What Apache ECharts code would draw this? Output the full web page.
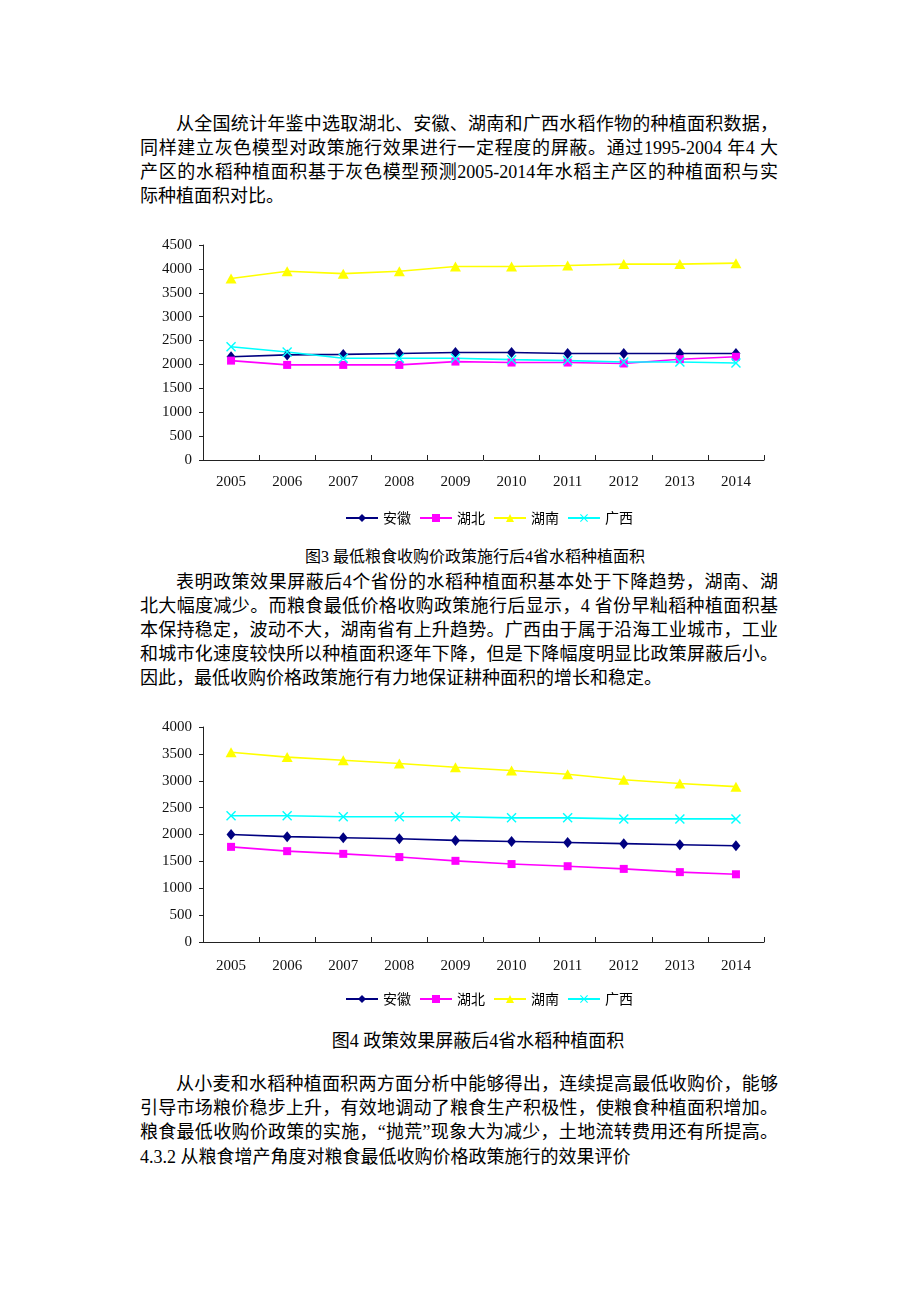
<!DOCTYPE html>
<html>
<head>
<meta charset="utf-8">
<script src="https://cdn.jsdelivr.net/npm/echarts@6/dist/echarts.min.js"></script>
<style>
  html, body { margin: 0; padding: 0; background: #fff; }
  body { width: 920px; height: 1302px; position: relative; overflow: hidden;
         font-family: 'Liberation Serif', 'Noto Sans CJK SC', serif; color: #000; }
  .ln { position: absolute; left: 140px; width: 638px; height: 24px; line-height: 24px;
        font-size: 18px; white-space: nowrap; text-align: justify; text-align-last: justify; }
  .ind { left: 176px; width: 602px; }
  .last { text-align: left; text-align-last: left; }
  .cap { position: absolute; left: 0; width: 920px; text-align: center; white-space: nowrap; }
  .chart { position: absolute; left: 0; width: 920px; }
</style>
</head>
<body>
<div class="ln ind" style="top:112px">从全国统计年鉴中选取湖北、安徽、湖南和广西水稻作物的种植面积数据，</div>
<div class="ln" style="top:136px">同样建立灰色模型对政策施行效果进行一定程度的屏蔽。通过1995-2004 年4 大</div>
<div class="ln" style="top:160px">产区的水稻种植面积基于灰色模型预测2005-2014年水稻主产区的种植面积与实</div>
<div class="ln last" style="top:184px">际种植面积对比。</div>

<div id="c1" class="chart" style="top:230px;height:310px"></div>
<div class="cap" style="top:546px;font-size:16px;line-height:22px;padding-left:30px;box-sizing:border-box">图3 最低粮食收购价政策施行后4省水稻种植面积</div>

<div class="ln ind" style="top:570px">表明政策效果屏蔽后4个省份的水稻种植面积基本处于下降趋势，湖南、湖</div>
<div class="ln" style="top:594px">北大幅度减少。而粮食最低价格收购政策施行后显示，4 省份早籼稻种植面积基</div>
<div class="ln" style="top:618px">本保持稳定，波动不大，湖南省有上升趋势。广西由于属于沿海工业城市，工业</div>
<div class="ln" style="top:642px">和城市化速度较快所以种植面积逐年下降，但是下降幅度明显比政策屏蔽后小。</div>
<div class="ln last" style="top:666px">因此，最低收购价格政策施行有力地保证耕种面积的增长和稳定。</div>

<div id="c2" class="chart" style="top:715px;height:300px"></div>
<div class="cap" style="top:1028px;font-size:18px;line-height:26px;padding-left:36px;box-sizing:border-box">图4 政策效果屏蔽后4省水稻种植面积</div>

<div class="ln ind" style="top:1072px">从小麦和水稻种植面积两方面分析中能够得出，连续提高最低收购价，能够</div>
<div class="ln" style="top:1096px">引导市场粮价稳步上升，有效地调动了粮食生产积极性，使粮食种植面积增加。</div>
<div class="ln" style="top:1120px">粮食最低收购价政策的实施，“抛荒”现象大为减少，土地流转费用还有所提高。</div>
<div class="ln last" style="top:1145px">4.3.2 从粮食增产角度对粮食最低收购价格政策施行的效果评价</div>

<script>
// ---- Data ----
var years = ['2005','2006','2007','2008','2009','2010','2011','2012','2013','2014'];
var seriesNames = ['安徽','湖北','湖南','广西'];

// Figure 3: actual area after policy
var fig3_anhui   = [2160, 2200, 2210, 2230, 2250, 2250, 2230, 2230, 2230, 2230];
var fig3_hubei   = [2080, 1990, 1990, 1990, 2060, 2040, 2040, 2020, 2110, 2160];
var fig3_hunan   = [3800, 3950, 3900, 3950, 4050, 4050, 4070, 4100, 4100, 4120];
var fig3_guangxi = [2370, 2260, 2130, 2130, 2130, 2100, 2080, 2050, 2050, 2030];

// Figure 4: after shielding policy effect (grey model)
var fig4_anhui   = [2000, 1960, 1940, 1920, 1890, 1870, 1850, 1830, 1810, 1790];
var fig4_hubei   = [1770, 1690, 1640, 1580, 1510, 1450, 1410, 1360, 1300, 1260];
var fig4_hunan   = [3530, 3440, 3380, 3320, 3250, 3190, 3120, 3020, 2950, 2890];
var fig4_guangxi = [2350, 2350, 2330, 2330, 2330, 2310, 2310, 2290, 2290, 2290];

var fig3_yMax = 4500;
var fig4_yMax = 4000;
var yInterval = 500;

// ---- Styles ----
var colors = ['#000080', '#FF00FF', '#FFFF00', '#00FFFF'];
var crossPath = 'path://M0,1L1,0L5,4L9,0L10,1L6,5L10,9L9,10L5,6L1,10L0,9L4,5Z';
var symbols = [
  {symbol: 'diamond', size: [9, 11]},
  {symbol: 'rect', size: [8, 8]},
  {symbol: 'triangle', size: [11, 10]},
  {symbol: crossPath, size: [10, 10]}
];
var axisFont = 'Liberation Serif';

function buildOption(dataList, yMax, gridTop, legendTop, labelMargin) {
  return {
    animation: false,
    backgroundColor: '#fff',
    color: colors,
    grid: { left: 203, top: gridTop, width: 561, height: 215, containLabel: false },
    legend: {
      data: seriesNames,
      left: 340, top: legendTop,
      itemWidth: 32, itemHeight: 10, itemGap: 8,
      textStyle: { fontSize: 14, fontFamily: 'Noto Sans CJK SC', color: '#000' }
    },
    xAxis: {
      type: 'category',
      data: years,
      boundaryGap: true,
      axisLine: { lineStyle: { color: '#222', width: 1 } },
      axisTick: { show: true, inside: true, length: 5, interval: 0, lineStyle: { color: '#222' } },
      axisLabel: { fontSize: 15, fontFamily: axisFont, color: '#111', margin: labelMargin, interval: 0 },
      splitLine: { show: false }
    },
    yAxis: {
      type: 'value',
      min: 0, max: yMax, interval: yInterval,
      axisLine: { show: true, lineStyle: { color: '#222', width: 1 } },
      axisTick: { show: true, inside: false, length: 4, lineStyle: { color: '#222' } },
      axisLabel: { fontSize: 15, fontFamily: axisFont, color: '#111', margin: 11,
                   formatter: function (v) { return String(v); } },
      splitLine: { show: false }
    },
    series: dataList.map(function (d, i) {
      return {
        name: seriesNames[i],
        type: 'line',
        data: d,
        symbol: symbols[i].symbol,
        symbolSize: symbols[i].size,
        showAllSymbol: true,
        lineStyle: { width: 1.6, color: colors[i] },
        itemStyle: { color: colors[i] }
      };
    })
  };
}

var c1 = echarts.init(document.getElementById('c1'), null, { renderer: 'canvas' });
c1.setOption(buildOption([fig3_anhui, fig3_hubei, fig3_hunan, fig3_guangxi], fig3_yMax, 15, 276, 15));

var c2 = echarts.init(document.getElementById('c2'), null, { renderer: 'canvas' });
c2.setOption(buildOption([fig4_anhui, fig4_hubei, fig4_hunan, fig4_guangxi], fig4_yMax, 12, 272, 17));
</script>
</body>
</html>
